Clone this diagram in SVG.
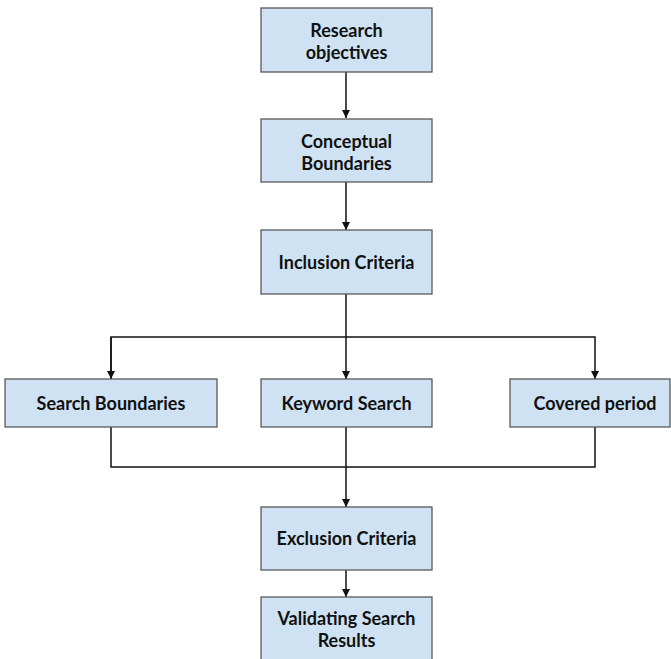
<svg xmlns="http://www.w3.org/2000/svg" width="671" height="659" viewBox="0 0 671 659">
  <style>
    .box { fill: #cfe2f3; stroke: #595959; stroke-width: 1.3; }
    .lbl { font-family: Lato, "Open Sans", "Liberation Sans", sans-serif; font-weight: bold; font-size: 18px; fill: #111; text-anchor: middle; }
    .line { fill: none; stroke: #111; stroke-width: 1.5; }
  </style>
  <defs>
    <marker id="arrow" viewBox="0 0 10 10" refX="10" refY="5" markerWidth="8" markerHeight="8" markerUnits="userSpaceOnUse" orient="auto">
      <path d="M0,0 L10,5 L0,10 z" fill="#111"/>
    </marker>
  </defs>

  <g id="connectors">
    <path class="line" d="M346,72 V118" marker-end="url(#arrow)"/>
    <path class="line" d="M346,182 V230" marker-end="url(#arrow)"/>
    <path class="line" d="M346,294 V379" marker-end="url(#arrow)"/>
    <path class="line" d="M111,379 V337 H595 V379" marker-end="url(#arrow)"/>
    <path class="line" d="M111,337 V379" marker-end="url(#arrow)"/>
    <path class="line" d="M111,427 V467 H595 V427"/>
    <path class="line" d="M346,427 V507" marker-end="url(#arrow)"/>
    <path class="line" d="M346,570 V597" marker-end="url(#arrow)"/>
  </g>

  <g id="research-objectives">
    <rect class="box" x="261" y="8" width="171" height="64"/>
    <text class="lbl" x="346.5" y="37">Research</text>
    <text class="lbl" x="346.5" y="59">objectives</text>
  </g>
  <g id="conceptual-boundaries">
    <rect class="box" x="261" y="119" width="171" height="63"/>
    <text class="lbl" x="346.5" y="148">Conceptual</text>
    <text class="lbl" x="346.5" y="170">Boundaries</text>
  </g>
  <g id="inclusion-criteria">
    <rect class="box" x="261" y="230" width="171" height="64"/>
    <text class="lbl" x="346.5" y="269">Inclusion Criteria</text>
  </g>
  <g id="search-boundaries">
    <rect class="box" x="5" y="379" width="212" height="48"/>
    <text class="lbl" x="111" y="410">Search Boundaries</text>
  </g>
  <g id="keyword-search">
    <rect class="box" x="261" y="379" width="171" height="48"/>
    <text class="lbl" x="346.5" y="410">Keyword Search</text>
  </g>
  <g id="covered-period">
    <rect class="box" x="510" y="379" width="160" height="48"/>
    <text class="lbl" x="595" y="410">Covered period</text>
  </g>
  <g id="exclusion-criteria">
    <rect class="box" x="261" y="507" width="171" height="63"/>
    <text class="lbl" x="346.5" y="545">Exclusion Criteria</text>
  </g>
  <g id="validating-search-results">
    <rect class="box" x="261" y="597" width="171" height="64"/>
    <text class="lbl" x="346.5" y="625">Validating Search</text>
    <text class="lbl" x="346.5" y="647">Results</text>
  </g>
</svg>
